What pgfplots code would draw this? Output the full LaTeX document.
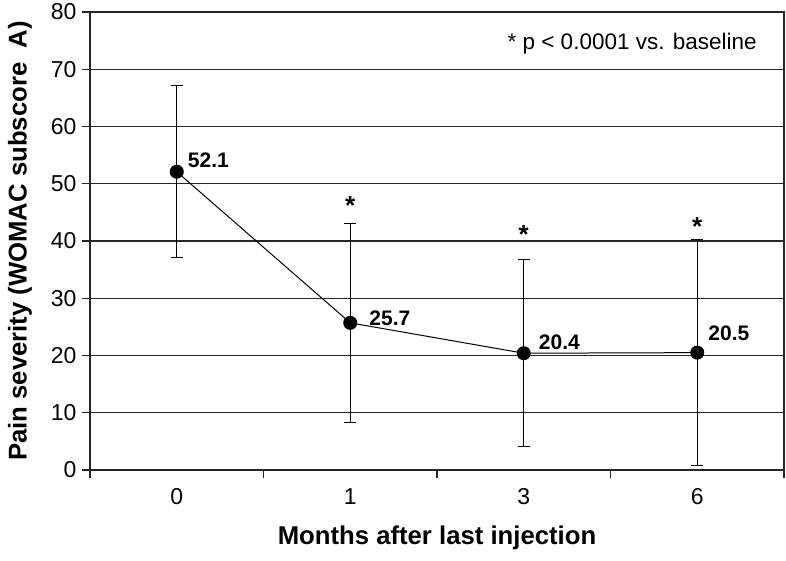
\documentclass[border=0pt]{standalone}
\usepackage{pgfplots}
\pgfplotsset{compat=1.18}
\usepackage{fontspec}
\setmainfont{Liberation Sans}
\begin{document}
\begin{tikzpicture}
\begin{axis}[
  scale only axis,
  width=694pt, height=458pt,
  xmin=-0.5, xmax=3.5,
  ymin=0, ymax=80,
  ytick={0,10,...,80},
  xtick={0,1,2,3},
  xticklabels={0,1,3,6},
  minor xtick={-0.5,0.5,1.5,2.5,3.5},
  xtick pos=bottom, ytick pos=left,
  major x tick style={draw=none},
  tick align=outside,
  major tick length=8pt,
  minor tick length=8pt,
  ymajorgrids,
  grid style={black!85, line width=1.3pt},
  axis line style={black!85, line width=1.3pt},
  tick style={black!85, line width=1.3pt},
  every tick label/.append style={font=\fontsize{23}{25}\selectfont},
  /pgf/number format/assume math mode=true,
  yticklabel style={xshift=-2pt},
  xticklabel style={yshift=-7pt},
  xlabel={\textbf{Months after last injection}},
  ylabel={\textbf{Pain severity (WOMAC subscore\ \ A)}},
  label style={font=\fontsize{25.7}{28}\selectfont},
  xlabel style={yshift=-14pt},
  ylabel style={yshift=12pt},
  clip=false,
]
\addplot[black, line width=1pt, mark=*, mark size=6.5pt,
  error bars/.cd, y dir=both, y explicit,
  error bar style={black, line width=1pt},
  error mark options={black, line width=1pt, mark size=6pt, rotate=90}]
  coordinates {
  (0,52.1) +- (0,15.0)
  (1,25.7) +- (0,17.4)
  (2,20.4) +- (0,16.3)
  (3,20.5) +- (0,19.7)
  };
\begin{scope}[font=\fontsize{21}{24}\selectfont\bfseries, inner sep=0pt]
\node[anchor=west] at ([xshift=11pt,yshift=11pt]axis cs:0,52.1) {52.1};
\node[anchor=west] at ([xshift=19pt,yshift=5pt]axis cs:1,25.7) {25.7};
\node[anchor=west] at ([xshift=15pt,yshift=11pt]axis cs:2,20.4) {20.4};
\node[anchor=west] at ([xshift=11pt,yshift=19pt]axis cs:3,20.5) {20.5};
\end{scope}
\begin{scope}[font=\fontsize{26}{28}\selectfont\bfseries, inner sep=0pt]
\node[anchor=base] at ([yshift=-15pt]axis cs:1,47.3) {*};
\node[anchor=base] at ([yshift=-15pt]axis cs:2,42.2) {*};
\node[anchor=base] at ([yshift=-15pt]axis cs:3,43.5) {*};
\end{scope}
\node[anchor=east, inner sep=0pt, font=\fontsize{22.5}{25}\selectfont] at (rel axis cs:0.961,0.93) {* p < 0.0001 vs. baseline};
\end{axis}
\pgfresetboundingbox
\path (-90pt,-90pt) rectangle (696pt,470pt);
\end{tikzpicture}
\end{document}
